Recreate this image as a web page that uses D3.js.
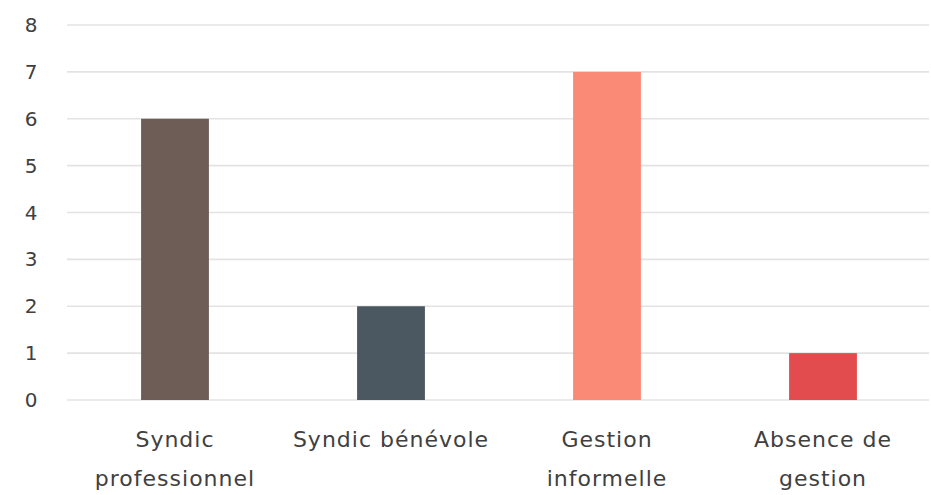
<!DOCTYPE html>
<html><head><meta charset="utf-8">
<script src="https://cdn.jsdelivr.net/npm/d3@7"></script>
<style>body{margin:0;background:#fff}svg{display:block}</style>
</head><body>
<svg id="c" width="931" height="495"></svg>
<script>
const categories = [["Syndic","professionnel"],["Syndic bénévole"],["Gestion","informelle"],["Absence de","gestion"]];
const values = [6, 2, 7, 1];
const colors = ["#6d5d56", "#4b5862", "#fa8976", "#e24c4e"];
const yTicks = [0,1,2,3,4,5,6,7,8];

const svg = d3.select("#c");
const font = "'DejaVu Sans', sans-serif";
const x = d3.scaleBand().domain(d3.range(categories.length)).range([67, 931]).paddingInner(0.686).paddingOuter(0.343);
const y = d3.scaleLinear().domain([0, 8]).range([400, 25]);

svg.append("g").selectAll("line").data(yTicks).join("line")
  .attr("x1", 67).attr("x2", 929)
  .attr("y1", d => y(d)).attr("y2", d => y(d))
  .attr("stroke", "#e3e3e3").attr("stroke-width", 1.6);

svg.append("g").selectAll("text").data(yTicks).join("text")
  .attr("x", 31).attr("y", d => y(d)).attr("dy", "0.35em")
  .attr("text-anchor", "middle").attr("font-family", font).attr("font-size", 20)
  .attr("fill", "#404040").text(d => d);

svg.append("g").selectAll("rect").data(values).join("rect")
  .attr("x", (d, i) => x(i)).attr("width", x.bandwidth())
  .attr("y", d => y(d)).attr("height", d => y(0) - y(d))
  .attr("fill", (d, i) => colors[i]);

const lab = svg.append("g").selectAll("text").data(categories).join("text")
  .attr("x", (d, i) => x(i) + x.bandwidth() / 2).attr("y", 447)
  .attr("text-anchor", "middle").attr("font-family", font).attr("font-size", 22)
  .attr("letter-spacing", 1)
  .attr("fill", "#404040");
lab.selectAll("tspan").data(d => d).join("tspan")
  .attr("x", function(){ return this.parentNode.getAttribute("x"); })
  .attr("dy", (d, i) => i === 0 ? 0 : 39).text(d => d);
</script>
</body></html>
